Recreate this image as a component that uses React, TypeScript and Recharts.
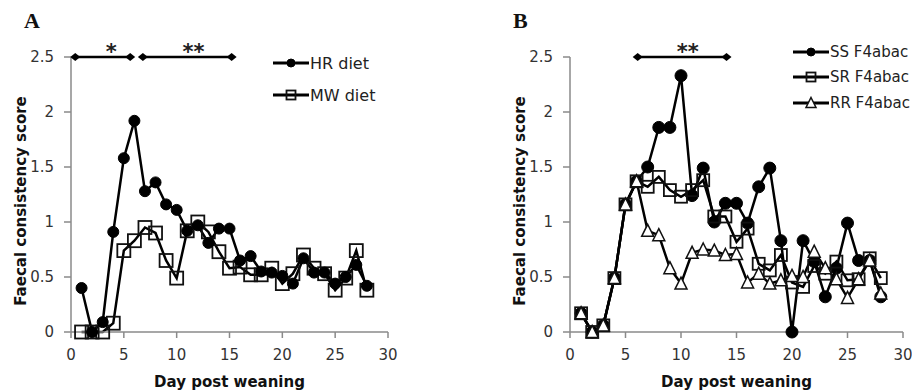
import { LineChart, Line, XAxis, YAxis, Legend, ReferenceLine, ReferenceDot } from 'recharts'

// day post weaning
const days = [1, 2, 3, 4, 5, 6, 7, 8, 9, 10, 11, 12, 13, 14, 15, 16, 17, 18, 19, 20, 21, 22, 23, 24, 25, 26, 27, 28]

// panel A
const hrDiet = [0.4, 0, 0.09, 0.91, 1.58, 1.92, 1.28, 1.36, 1.16, 1.11, 0.92, 0.97, 0.81, 0.94, 0.94, 0.65, 0.69, 0.55, 0.54, 0.51, 0.44, 0.67, 0.54, 0.54, 0.44, 0.5, 0.61, 0.42]
const mwDiet = [0, 0, 0, 0.08, 0.74, 0.83, 0.95, 0.9, 0.65, 0.49, 0.92, 1.0, 0.91, 0.73, 0.58, 0.59, 0.52, 0.52, 0.58, 0.44, 0.53, 0.7, 0.58, 0.53, 0.38, 0.49, 0.74, 0.38]

// panel B
const ssF4 = [0.17, 0, 0.06, 0.49, 1.16, 1.37, 1.5, 1.86, 1.86, 2.33, 1.24, 1.49, 1.0, 1.17, 1.17, 0.99, 1.32, 1.49, 0.83, 0, 0.83, 0.64, 0.32, 0.58, 0.99, 0.65, 0.65, 0.32]
const srF4 = [0.17, 0, 0.06, 0.49, 1.16, 1.37, 1.32, 1.41, 1.29, 1.23, 1.29, 1.38, 1.05, 1.05, 0.82, 0.94, 0.62, 0.56, 0.7, 0.45, 0.41, 0.6, 0.53, 0.64, 0.47, 0.48, 0.67, 0.49]
const rrF4 = [0.17, 0, 0.06, 0.49, 1.16, 1.37, 0.92, 0.88, 0.58, 0.44, 0.72, 0.75, 0.74, 0.7, 0.71, 0.45, 0.53, 0.44, 0.47, 0.51, 0.5, 0.73, 0.58, 0.48, 0.31, 0.48, 0.65, 0.35]

const xTicks = [0, 5, 10, 15, 20, 25, 30]
const yTicks = [0, 0.5, 1, 1.5, 2, 2.5]

// significance bars (day ranges)
const sigA = [
    { from: 0.4, to: 5.6, mark: '*', at: 3.8 },
    { from: 6.8, to: 15.2, mark: '**', at: 11.6 },
]
const sigB = [{ from: 6.1, to: 14.1, mark: '**', at: 10.6 }]

const dataA = days.map((d, i) => ({ day: d, hr: hrDiet[i], mw: mwDiet[i] }))
const dataB = days.map((d, i) => ({ day: d, ss: ssF4[i], sr: srF4[i], rr: rrF4[i] }))

const FONT = '"DejaVu Sans", Verdana, sans-serif'
const AXIS = '#8a8a8a'

type Marker = 'circle' | 'square' | 'triangle'

const drawMarker = (kind: Marker, cx: number, cy: number, size: number, key?: string) => {
    const h = size / 2
    if (kind === 'circle')
        return <circle key={key} cx={cx} cy={cy} r={h} fill="#000" stroke="#000" />
    if (kind === 'square')
        return <rect key={key} x={cx - h} y={cy - h} width={size} height={size} fill="none" stroke="#111" strokeWidth={1.8} />
    return (
        <polygon
            key={key}
            points={`${cx},${cy - h - 1} ${cx + h + 0.5},${cy + h} ${cx - h - 0.5},${cy + h}`}
            fill="#fff"
            stroke="#111"
            strokeWidth={1.5}
        />
    )
}

const dotOf = (kind: Marker, size: number, name: string) => (p: any) => {
    if (p.cx == null || p.cy == null) return <g key={`${name}-${p.index}`} />
    return drawMarker(kind, p.cx, p.cy, size, `${name}-${p.index}`)
}

const markers: Record<string, Marker> = { hr: 'circle', mw: 'square', ss: 'circle', sr: 'square', rr: 'triangle' }

const makeLegend = (order: string[], rowH: number, fontSize: number) => (props: any) => {
    const items = [...(props.payload || [])].sort(
        (a: any, b: any) => order.indexOf(a.dataKey) - order.indexOf(b.dataKey),
    )
    return (
        <div style={{ fontFamily: FONT, fontSize, color: '#222' }}>
            {items.map((it: any) => (
                <div key={it.dataKey} style={{ height: rowH, display: 'flex', alignItems: 'center', whiteSpace: 'nowrap' }}>
                    <svg width={36} height={14} style={{ marginRight: 1 }}>
                        <line x1={0} y1={7} x2={36} y2={7} stroke="#000" strokeWidth={3} />
                        {drawMarker(markers[it.dataKey], 18, 7, markers[it.dataKey] === 'circle' ? 8 : 9)}
                    </svg>
                    <span>{it.value}</span>
                </div>
            ))}
        </div>
    )
}

const yTitle = (p: any) => {
    const vb = p.viewBox || {}
    const cx = (vb.x ?? 0) + 21
    const cy = 201
    return (
        <text
            x={cx}
            y={cy}
            transform={`rotate(-90 ${cx} ${cy})`}
            textAnchor="middle"
            dominantBaseline="central"
            fontFamily={FONT}
            fontWeight="bold"
            fontSize={15}
            fill="#111"
        >
            Faecal consistency score
        </text>
    )
}

const diamond = (p: any) => (
    <polygon points={`${p.cx - 5},${p.cy} ${p.cx},${p.cy - 4} ${p.cx + 5},${p.cy} ${p.cx},${p.cy + 4}`} fill="#000" />
)

const starShape = (mark: string) => (p: any) => (
    <text x={p.cx} y={p.cy + 2} textAnchor="middle" fontFamily={FONT} fontWeight="bold" fontSize={21} fill="#222">
        {mark}
    </text>
)

const sigMarks = (sig: typeof sigA) =>
    sig.flatMap((s, i) => [
        <ReferenceLine
            key={`l${i}`}
            segment={[{ x: s.from, y: 2.5 }, { x: s.to, y: 2.5 }]}
            stroke="#000"
            strokeWidth={2.5}
            ifOverflow="visible"
        />,
        <ReferenceDot key={`a${i}`} x={s.from} y={2.5} r={4} shape={diamond} ifOverflow="visible" />,
        <ReferenceDot key={`b${i}`} x={s.to} y={2.5} r={4} shape={diamond} ifOverflow="visible" />,
        <ReferenceDot key={`s${i}`} x={s.at} y={2.5} r={1} shape={starShape(s.mark)} ifOverflow="visible" />,
    ])

const axes = () => [
    <XAxis
        key="x"
        dataKey="day"
        type="number"
        domain={[0, 30]}
        ticks={xTicks}
        height={60}
        tickSize={6}
        tickMargin={11}
        stroke={AXIS}
        strokeWidth={1.5}
        tick={{ fill: '#333', fontSize: 15, fontFamily: FONT }}
        label={{ value: 'Day post weaning', position: 'insideBottom', offset: 5, fill: '#111', fontSize: 15, fontWeight: 'bold', fontFamily: FONT }}
    />,
    <YAxis
        key="y"
        type="number"
        domain={[0, 2.5]}
        ticks={yTicks}
        width={71}
        tickSize={7}
        tickMargin={10}
        stroke={AXIS}
        strokeWidth={1.5}
        tick={{ fill: '#333', fontSize: 15, fontFamily: FONT }}
        label={{ content: yTitle }}
    />,
]

const letter = (ch: string, left: number) => (
    <div
        style={{
            position: 'absolute',
            left,
            top: 8,
            fontFamily: '"Liberation Serif", "Times New Roman", serif',
            fontWeight: 'bold',
            fontSize: 22,
            color: '#111',
        }}
    >
        {ch}
    </div>
)

export default function App() {
    return (
        <div style={{ position: 'absolute', left: 0, top: 0, width: 912, height: 392, background: '#fff', overflow: 'hidden' }}>
            {letter('A', 24)}
            {letter('B', 513)}
            <div style={{ position: 'absolute', left: 0, top: 0 }}>
                <LineChart width={456} height={392} data={dataA} margin={{ top: 57, right: 68, bottom: 0, left: 0 }}>
                    {axes()}
                    {sigMarks(sigA)}
                    <Line dataKey="mw" name="MW diet" stroke="#000" strokeWidth={2.5} dot={dotOf('square', 13, 'mw')} isAnimationActive={false} />
                    <Line dataKey="hr" name="HR diet" stroke="#000" strokeWidth={2.5} dot={dotOf('circle', 11, 'hr')} isAnimationActive={false} />
                    <Legend
                        layout="vertical"
                        align="center"
                        verticalAlign="middle"
                        content={makeLegend(['hr', 'mw'], 32, 16)}
                        wrapperStyle={{ left: 273, top: 47, width: 'auto' }}
                    />
                </LineChart>
            </div>
            <div style={{ position: 'absolute', left: 456, top: 0 }}>
                <LineChart width={456} height={392} data={dataB} margin={{ top: 57, right: 9, bottom: 0, left: 43 }}>
                    {axes()}
                    {sigMarks(sigB)}
                    <Line dataKey="ss" name="SS F4abac" stroke="#000" strokeWidth={2.5} dot={dotOf('circle', 12, 'ss')} isAnimationActive={false} />
                    <Line dataKey="sr" name="SR F4abac" stroke="#000" strokeWidth={2.5} dot={dotOf('square', 12, 'sr')} isAnimationActive={false} />
                    <Line dataKey="rr" name="RR F4abac" stroke="#000" strokeWidth={2.5} dot={dotOf('triangle', 11, 'rr')} isAnimationActive={false} />
                    <Legend
                        layout="vertical"
                        align="center"
                        verticalAlign="middle"
                        content={makeLegend(['ss', 'sr', 'rr'], 25.5, 15)}
                        wrapperStyle={{ left: 337, top: 39, width: 'auto' }}
                    />
                </LineChart>
            </div>
        </div>
    )
}
